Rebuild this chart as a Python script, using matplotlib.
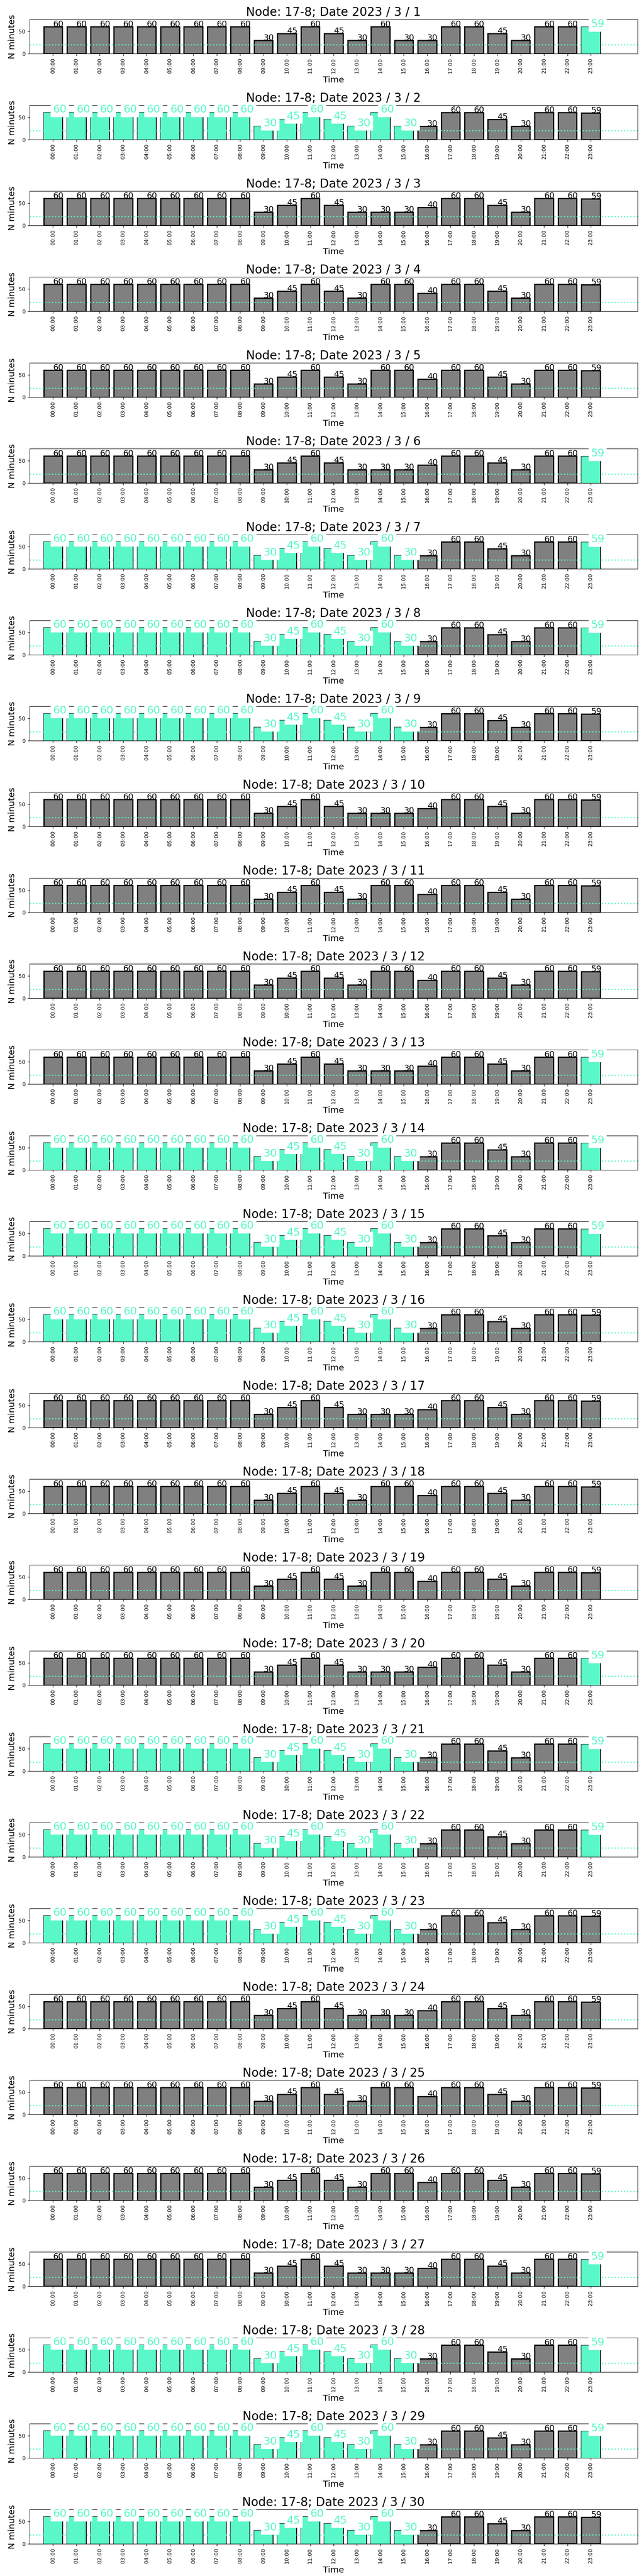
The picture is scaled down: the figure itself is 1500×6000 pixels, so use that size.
import matplotlib
matplotlib.use("Agg")
import matplotlib.pyplot as plt

# hourly minutes, three recurring day profiles
prof_a = [60, 60, 60, 60, 60, 60, 60, 60, 60, 30, 45, 60, 45, 30, 60, 30,
          30, 60, 60, 45, 30, 60, 60, 59]
prof_b = [60, 60, 60, 60, 60, 60, 60, 60, 60, 30, 45, 60, 45, 30, 30, 30,
          40, 60, 60, 45, 30, 60, 60, 59]
prof_c = [60, 60, 60, 60, 60, 60, 60, 60, 60, 30, 45, 60, 45, 30, 60, 60,
          40, 60, 60, 45, 30, 60, 60, 59]
profiles = {"A": prof_a, "B": prof_b, "C": prof_c}

days = list(range(1, 31))
day_profile = ["A", "A", "B", "C", "C", "B", "A", "A", "A", "B",
               "C", "C", "B", "A", "A", "A", "B", "C", "C", "B",
               "A", "A", "A", "B", "C", "C", "B", "A", "A", "A"]
# which hours are highlighted: "" none, "end" last hour, "am" 00-15, "both"
day_mark = ["end", "am", "", "", "", "end", "both", "both", "am", "",
            "", "", "end", "both", "both", "am", "", "", "", "end",
            "both", "both", "am", "", "", "", "end", "both", "both", "am"]

hour_labels = ["00:00", "01:00", "02:00", "03:00", "04:00", "05:00",
               "06:00", "07:00", "08:00", "09:00", "10:00", "11:00",
               "12:00", "13:00", "14:00", "15:00", "16:00", "17:00",
               "18:00", "19:00", "20:00", "21:00", "22:00", "23:00"]

threshold = 20
cyan = "#5af8c8"

fig, axes = plt.subplots(30, 1, figsize=(15, 60), dpi=100)
fig.subplots_adjust(left=69 / 1500, right=1485 / 1500,
                    top=1 - 45 / 6000, bottom=1 - 5925 / 6000, hspace=1.5)

for ax, d, p, mark in zip(axes, days, day_profile, day_mark):
    vals = profiles[p]
    x = list(range(len(vals)))
    ax.bar(x, vals, width=0.8, color="gray", edgecolor="black", linewidth=2)

    hl = set()
    if mark in ("am", "both"):
        hl.update(range(16))
    if mark in ("end", "both"):
        hl.add(23)
    hx = [i for i in x if i in hl]
    if hx:
        ax.bar(hx, [vals[i] for i in hx], width=0.8, color=cyan, linewidth=0)

    ax.axhline(threshold, color=cyan, linestyle=":", linewidth=2)

    for i, v in zip(x, vals):
        if i in hl:
            ax.text(i, v, str(v), fontsize=18, color=cyan,
                    bbox=dict(facecolor="white", edgecolor="none"))
        else:
            ax.text(i, v, str(v), fontsize=14, color="black")

    ax.set_xlim(-1, 25)
    ax.set_ylim(0, 76.5)
    ax.set_yticks([0, 50])
    ax.set_xticks(x)
    ax.set_xticklabels(hour_labels, rotation=90)
    ax.tick_params(labelsize=9)
    ax.set_title(f"Node: 17-8; Date 2023 / 3 / {d}", fontsize=20)
    ax.set_xlabel("Time", fontsize=14.5)
    ax.set_ylabel("N minutes", fontsize=14.5)

fig.savefig("out.png", dpi=100)
